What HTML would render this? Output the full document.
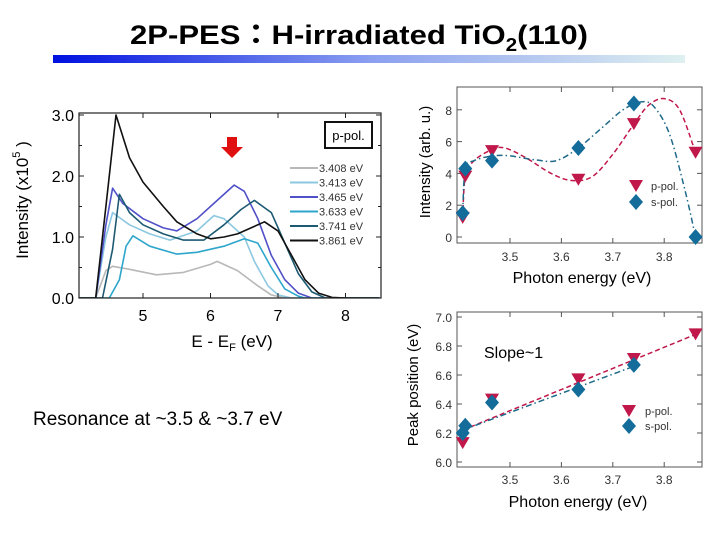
<!DOCTYPE html>
<html><head><meta charset="utf-8"><style>
body{margin:0;background:#fff;}
svg{display:block;font-family:"Liberation Sans","Noto Sans CJK JP",sans-serif;}
</style></head><body>
<svg id="s" width="720" height="540" viewBox="0 0 720 540">
<defs><linearGradient id="g" x1="0" x2="1"><stop offset="0" stop-color="#0010e0"/><stop offset="0.5" stop-color="#8a9ff0"/><stop offset="1" stop-color="#dff0f0"/></linearGradient></defs>
<text x="130" y="44" font-size="27" font-weight="bold" textLength="458" lengthAdjust="spacingAndGlyphs">2P-PES：H-irradiated TiO<tspan font-size="18" dy="7">2</tspan><tspan dy="-7">(110)</tspan></text>
<rect x="53" y="55" width="632" height="8" fill="url(#g)"/>
<text x="33" y="425" font-size="19">Resonance at ~3.5 &amp; ~3.7 eV</text>
<g id="main"></g><g id="top"></g><g id="bot"></g>
</svg>
<script>
// ---- main spectra data ----
const seriesLabels=["3.408 eV","3.413 eV","3.465 eV","3.633 eV","3.741 eV","3.861 eV"];
const s3408x=[4.05,4.3,4.45,4.55,4.8,5.2,5.6,6.0,6.1,6.4,6.7,6.9,7.1,8.5];
const s3408y=[0,0,0.45,0.52,0.47,0.38,0.42,0.55,0.6,0.45,0.2,0.05,0,0];
const s3413x=[4.05,4.3,4.45,4.55,4.8,5.1,5.4,5.8,6.05,6.2,6.5,6.65,6.85,7.0,7.2,8.5];
const s3413y=[0,0,1.0,1.4,1.2,1.05,0.95,1.1,1.35,1.3,1.0,0.6,0.2,0.05,0,0];
const s3465x=[4.05,4.3,4.45,4.55,4.7,5.0,5.3,5.5,5.8,6.1,6.35,6.5,6.7,6.9,7.1,7.3,7.5,8.5];
const s3465y=[0,0,1.2,1.8,1.55,1.3,1.15,1.1,1.3,1.6,1.85,1.75,1.3,0.7,0.3,0.08,0,0];
const s3633x=[4.05,4.5,4.65,4.75,4.85,5.1,5.5,5.8,6.2,6.5,6.7,6.9,7.1,7.3,7.4,8.5];
const s3633y=[0,0,0.3,0.85,1.02,0.85,0.72,0.75,0.85,0.97,0.9,0.5,0.15,0.03,0,0];
const s3741x=[4.05,4.4,4.55,4.65,4.8,5.0,5.3,5.6,5.9,6.2,6.45,6.65,6.9,7.1,7.3,7.5,7.7,8.5];
const s3741y=[0,0,0.8,1.7,1.4,1.2,1.05,0.95,0.95,1.2,1.45,1.6,1.4,0.9,0.4,0.1,0,0];
const s3861x=[4.05,4.3,4.45,4.6,4.8,5.0,5.3,5.5,5.8,6.0,6.2,6.4,6.6,6.8,7.0,7.2,7.4,7.6,7.8,8.0,8.5];
const s3861y=[0,0,1.5,3.0,2.3,1.9,1.5,1.25,1.05,0.97,1.0,1.05,1.15,1.25,1.1,0.7,0.3,0.08,0.01,0,0];
const mainXTicks=[5,6,7,8];
const mainYTicks=["0.0","1.0","2.0","3.0"];
// ---- top-right data ----
const photonE=[3.408,3.413,3.465,3.633,3.741,3.861];
const intP=[1.2,3.8,5.4,3.6,7.1,5.3];
const intS=[1.5,4.3,4.8,5.6,8.4,0];
const fitPx=[3.408,3.413,3.43,3.465,3.49,3.53,3.58,3.62,3.66,3.70,3.741,3.77,3.80,3.83,3.861];
const fitPy=[1.2,3.8,4.8,5.5,5.6,5.0,4.0,3.55,3.8,5.2,7.1,8.3,8.7,8.0,5.3];
const fitSx=[3.408,3.413,3.43,3.465,3.50,3.55,3.59,3.633,3.68,3.72,3.755,3.78,3.81,3.84,3.861];
const fitSy=[1.5,4.3,4.8,5.1,5.1,4.85,4.8,5.6,6.9,8.0,8.5,8.2,6.5,3.0,0];
const topYTicks=[0,2,4,6,8];
const photonTicks=["3.5","3.6","3.7","3.8"];
// ---- bottom-right data ----
const peakE_p=[3.408,3.465,3.633,3.741,3.861];
const peakP=[6.13,6.43,6.57,6.71,6.88];
const peakE_s=[3.408,3.413,3.465,3.633,3.741];
const peakS=[6.20,6.25,6.41,6.50,6.67];
const lineP=[6.22,6.88];
const lineS=[6.22,6.66];
const botYTicks=["6.0","6.2","6.4","6.6","6.8","7.0"];

const NS="http://www.w3.org/2000/svg";
function el(p,t,a,txt){const e=document.createElementNS(NS,t);for(const k in a)e.setAttribute(k,a[k]);if(txt!==undefined)e.textContent=txt;p.appendChild(e);return e;}

// ===== main chart =====
(function(){
const g=document.getElementById('main');
const L=79,R=381,T=113,B=298;
const xs=v=>143+(v-5)*67.5, ys=v=>298-v*61;
const colors=["#b8b8b8","#8cc8e0","#5050c8","#2ea6cc","#1d5a72","#111"];
const X=[s3408x,s3413x,s3465x,s3633x,s3741x,s3861x],Y=[s3408y,s3413y,s3465y,s3633y,s3741y,s3861y];
const cp=el(g,'clipPath',{id:'mc'});el(cp,'rect',{x:L,y:T-10,width:R-L,height:B-T+10});
for(let i=0;i<6;i++){
 const d=X[i].map((x,j)=>(j?'L':'M')+xs(x).toFixed(1)+','+ys(Y[i][j]).toFixed(1)).join('');
 const p=el(g,'path',{d,fill:'none',stroke:colors[i],'stroke-width':1.6,'stroke-linejoin':'round','clip-path':'url(#mc)'});
 
 
 const ly=168+i*14.5;
 const ll=el(g,'line',{x1:290,x2:318,y1:ly,y2:ly,stroke:colors[i],'stroke-width':2});
 
 
 const lt=el(g,'text',{x:319,y:ly+4,'font-size':11,fill:'#333'},seriesLabels[i]);
 
 
}
const fr=el(g,'rect',{x:L,y:T,width:R-L,height:B-T,fill:'none',stroke:'#222','stroke-width':1.2});


mainXTicks.forEach(v=>{
 el(g,'line',{x1:xs(v),x2:xs(v),y1:B,y2:B-5,stroke:'#222'});
 el(g,'line',{x1:xs(v),x2:xs(v),y1:T,y2:T+5,stroke:'#222'});
 const t=el(g,'text',{x:xs(v),y:B+23,'font-size':16,'text-anchor':'middle'},String(v));
 
 
});
mainYTicks.forEach(v=>{
 const y=ys(+v);
 el(g,'line',{x1:L,x2:L+5,y1:y,y2:y,stroke:'#222'});el(g,'line',{x1:R,x2:R-5,y1:y,y2:y,stroke:'#222'});
 const h=ys(+v+0.5);if(+v<3){el(g,'line',{x1:L,x2:L+3,y1:h,y2:h,stroke:'#222'});el(g,'line',{x1:R,x2:R-3,y1:h,y2:h,stroke:'#222'});}
 const t=el(g,'text',{x:L-5,y:y+6,'font-size':16,'text-anchor':'end'},v);
 
 
});
const xt=el(g,'text',{x:232,y:347,'font-size':17,'text-anchor':'middle'});
xt.innerHTML='E - E<tspan font-size="11" dy="4">F</tspan><tspan dy="-4"> (eV)</tspan>';


const yt=el(g,'text',{transform:'translate(28,200) rotate(-90)','font-size':17,'text-anchor':'middle'});
yt.innerHTML='Intensity (x10<tspan font-size="11" dy="-8">5</tspan><tspan dy="8"> )</tspan>';


const pb=el(g,'rect',{x:325,y:122,width:47,height:26,fill:'#fff',stroke:'#111','stroke-width':2});


el(g,'text',{x:348.5,y:140,'font-size':13,'text-anchor':'middle'},'p-pol.');
const ar=el(g,'path',{d:'M227,137h10v10h6l-11,11l-11,-11h6z',fill:'#e01010'});


})();

function tri(g,x,y,c){return el(g,'path',{d:`M${x-7},${y-6}h14l-7,12z`,fill:c});}
function dia(g,x,y,c){return el(g,'path',{d:`M${x},${y-8}l7,8l-7,8l-7,-8z`,fill:c});}
const xsP=v=>510+(v-3.5)*514;
const RED="#c0184a",BLU="#136c9a";

// ===== top right =====
(function(){
const g=document.getElementById('top');
const L=457,R=702,T=87,B=243;const ys=v=>237-v*15.9;
const fr=el(g,'rect',{x:L,y:T,width:R-L,height:B-T,fill:'none',stroke:'#555'});


topYTicks.forEach(v=>{el(g,'line',{x1:L,x2:L+5,y1:ys(v),y2:ys(v),stroke:'#555'});el(g,'line',{x1:R,x2:R-5,y1:ys(v),y2:ys(v),stroke:'#555'});
 const t=el(g,'text',{x:L-5,y:ys(v)+5,'font-size':12,'text-anchor':'end',fill:'#333'},String(v));
 
 });
photonTicks.forEach(v=>{const x=xsP(+v);el(g,'line',{x1:x,x2:x,y1:B,y2:B-5,stroke:'#555'});el(g,'line',{x1:x,x2:x,y1:T,y2:T+5,stroke:'#555'});
 const t=el(g,'text',{x:x,y:B+18,'font-size':12,'text-anchor':'middle',fill:'#333'},v);
 
 });
function smooth(xa,ya){const P=xa.map((x,i)=>[xsP(x),ys(ya[i])]);let d=`M${P[0][0]},${P[0][1]}`;
 for(let i=0;i<P.length-1;i++){const p0=P[i-1]||P[i],p1=P[i],p2=P[i+1],p3=P[i+2]||p2;
 d+=`C${p1[0]+(p2[0]-p0[0])/6},${p1[1]+(p2[1]-p0[1])/6} ${p2[0]-(p3[0]-p1[0])/6},${p2[1]-(p3[1]-p1[1])/6} ${p2[0]},${p2[1]}`;}return d;}
const fp=el(g,'path',{d:smooth(fitPx,fitPy),fill:'none',stroke:RED,'stroke-width':1.5,'stroke-dasharray':'5,3'});


const fs=el(g,'path',{d:smooth(fitSx,fitSy),fill:'none',stroke:'#1f6a8a','stroke-width':1.5,'stroke-dasharray':'6,3,1.5,3'});


photonE.forEach((e,i)=>{const a=tri(g,xsP(e),ys(intP[i]),RED);});
photonE.forEach((e,i)=>{const a=dia(g,xsP(e),ys(intS[i]),BLU);});
tri(g,636,186,RED);dia(g,636,202,BLU);
el(g,'text',{x:651,y:190,'font-size':11,fill:'#333'},'p-pol.');el(g,'text',{x:651,y:206,'font-size':11,fill:'#333'},'s-pol.');
const yt=el(g,'text',{transform:'translate(430,162) rotate(-90)','font-size':15,'text-anchor':'middle'},'Intensity (arb. u.)');


const xt=el(g,'text',{x:582,y:283,'font-size':16,'text-anchor':'middle'},'Photon energy (eV)');


})();

// ===== bottom right =====
(function(){
const g=document.getElementById('bot');
const L=457,R=702,T=312,B=467;const ys=v=>462-(v-6)*145;
const fr=el(g,'rect',{x:L,y:T,width:R-L,height:B-T,fill:'none',stroke:'#555'});


botYTicks.forEach(v=>{const y=ys(+v);el(g,'line',{x1:L,x2:L+5,y1:y,y2:y,stroke:'#555'});el(g,'line',{x1:R,x2:R-5,y1:y,y2:y,stroke:'#555'});
 const t=el(g,'text',{x:L-5,y:y+5,'font-size':12,'text-anchor':'end',fill:'#333'},v);
 
 });
photonTicks.forEach(v=>{const x=xsP(+v);el(g,'line',{x1:x,x2:x,y1:B,y2:B-5,stroke:'#555'});el(g,'line',{x1:x,x2:x,y1:T,y2:T+5,stroke:'#555'});
 const t=el(g,'text',{x:x,y:B+17,'font-size':12,'text-anchor':'middle',fill:'#333'},v);
 
 });
const lp=el(g,'line',{x1:xsP(peakE_p[0]),y1:ys(lineP[0]),x2:xsP(peakE_p[4]),y2:ys(lineP[1]),stroke:RED,'stroke-width':1.5,'stroke-dasharray':'5,3'});


const ls=el(g,'line',{x1:xsP(peakE_s[0]),y1:ys(lineS[0]),x2:xsP(peakE_s[4]),y2:ys(lineS[1]),stroke:'#1f6a8a','stroke-width':1.5,'stroke-dasharray':'6,3,1.5,3'});


peakE_p.forEach((e,i)=>{const a=tri(g,xsP(e),ys(peakP[i]),RED);});
peakE_s.forEach((e,i)=>{const a=dia(g,xsP(e),ys(peakS[i]),BLU);});
tri(g,629,411,RED);dia(g,629,426,BLU);
el(g,'text',{x:645,y:415,'font-size':11,fill:'#333'},'p-pol.');el(g,'text',{x:645,y:430,'font-size':11,fill:'#333'},'s-pol.');
const sl=el(g,'text',{x:484,y:358,'font-size':16},'Slope~1');


const yt=el(g,'text',{transform:'translate(418,385) rotate(-90)','font-size':15,'text-anchor':'middle'},'Peak position (eV)');


const xt=el(g,'text',{x:578,y:507,'font-size':16,'text-anchor':'middle'},'Photon energy (eV)');


})();
</script>
</body></html>
